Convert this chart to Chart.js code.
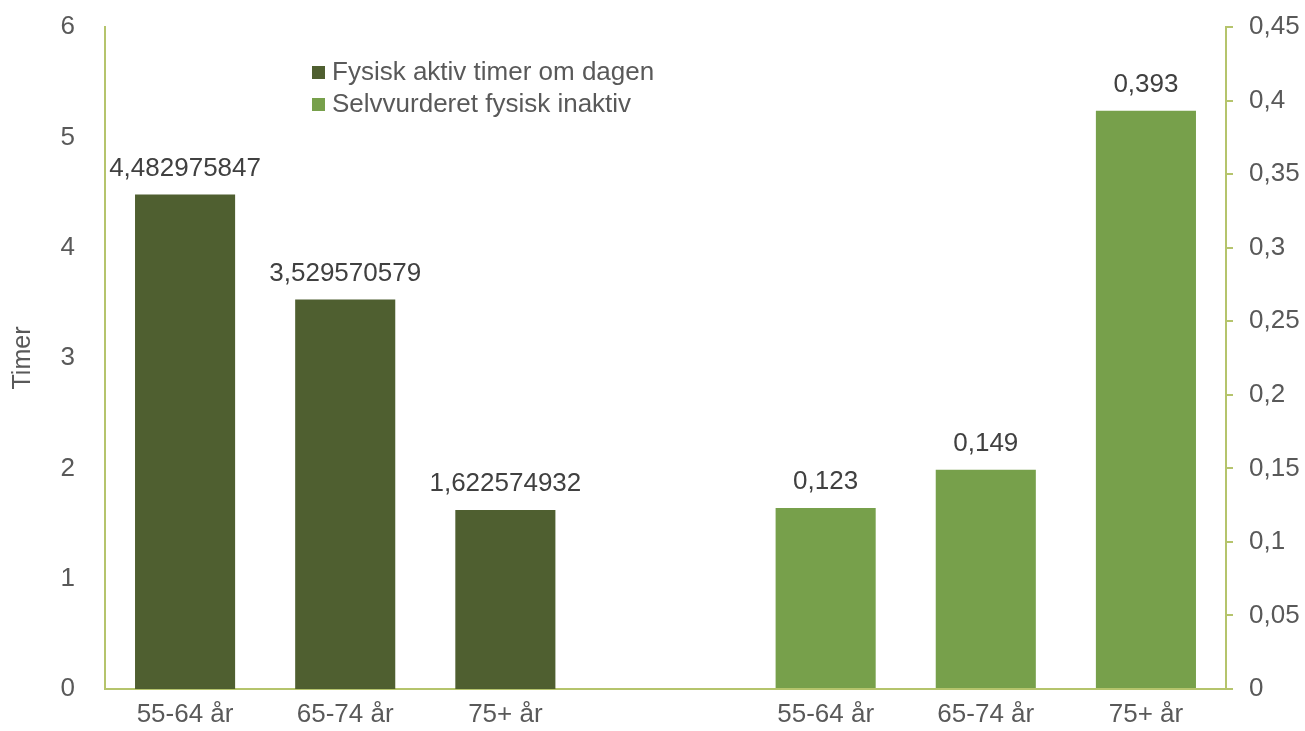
<!DOCTYPE html>
<html>
<head>
<meta charset="utf-8">
<script src="https://cdn.jsdelivr.net/npm/chart.js@4/dist/chart.umd.min.js"></script>
<style>
  html, body { margin: 0; padding: 0; background: #fff; }
  #wrap { width: 1305px; height: 731px; }
</style>
</head>
<body>
<div id="wrap"><canvas id="myChart" width="1305" height="731"></canvas></div>
<script>
// data
var categories = ["55-64 år", "65-74 år", "75+ år", "", "55-64 år", "65-74 år", "75+ år"];
var activeHours = [4.482975847, 3.529570579, 1.622574932, null, null, null, null];
var inactiveShare = [null, null, null, null, 0.123, 0.149, 0.393];
var leftTicks = [0, 1, 2, 3, 4, 5, 6];
var rightTicks = [0, 0.05, 0.1, 0.15, 0.2, 0.25, 0.3, 0.35, 0.4, 0.45];

var darkGreen = "#4F5F30";
var lightGreen = "#77A04B";
var axisColor = "#B5C46C";
var textColor = "#595959";
var fontFamily = "'Liberation Sans', Arial, sans-serif";
var fontSize = 26;

function comma(v) {
  return String(v).replace(".", ",");
}

// value labels above bars
var barLabels = {
  id: "barLabels",
  afterDatasetsDraw: function(chart) {
    var ctx = chart.ctx;
    ctx.save();
    ctx.font = fontSize + "px " + fontFamily;
    ctx.fillStyle = "#404040";
    ctx.textAlign = "center";
    ctx.textBaseline = "middle";
    chart.data.datasets.forEach(function(ds, i) {
      chart.getDatasetMeta(i).data.forEach(function(bar, j) {
        if (ds.data[j] == null) return;
        ctx.fillText(comma(ds.data[j]), bar.x, bar.y - 26);
      });
    });
    ctx.restore();
  }
};

// legend inside the plot
var innerLegend = {
  id: "innerLegend",
  afterDraw: function(chart) {
    var ctx = chart.ctx;
    ctx.save();
    ctx.font = fontSize + "px " + fontFamily;
    ctx.textBaseline = "middle";
    chart.data.datasets.forEach(function(ds, i) {
      var y = 73 + i * 32;
      ctx.fillStyle = ds.backgroundColor;
      ctx.fillRect(312, y - 7, 13, 13);
      ctx.fillStyle = textColor;
      ctx.fillText(ds.label, 332, y);
    });
    ctx.restore();
  }
};

var ctx = document.getElementById("myChart").getContext("2d");
var chart = new Chart(ctx, {
  type: "bar",
  data: {
    labels: categories,
    datasets: [
      { label: "Fysisk aktiv timer om dagen", data: activeHours, backgroundColor: darkGreen, yAxisID: "y" },
      { label: "Selvvurderet fysisk inaktiv", data: inactiveShare, backgroundColor: lightGreen, yAxisID: "y1" }
    ]
  },
  options: {
    responsive: false,
    animation: false,
    layout: { padding: { top: 27, left: 0, right: 0, bottom: 0 } },
    datasets: { bar: { grouped: false, barPercentage: 0.625, categoryPercentage: 1 } },
    plugins: { legend: { display: false }, tooltip: { enabled: false } },
    scales: {
      x: {
        grid: { display: false },
        border: { display: true, color: axisColor, width: 2 },
        ticks: { color: textColor, font: { size: fontSize, family: fontFamily }, padding: 2, maxRotation: 0, autoSkip: false },
        afterFit: function(s) { s.height = 42; }
      },
      y: {
        position: "left",
        min: 0, max: 6,
        afterBuildTicks: function(s) { s.ticks = leftTicks.map(function(v) { return { value: v }; }); },
        grid: { display: false },
        border: { display: true, color: axisColor, width: 2 },
        title: { display: true, text: "Timer", color: textColor, font: { size: fontSize - 1, family: fontFamily }, padding: { top: 8, bottom: 0 } },
        ticks: { color: textColor, font: { size: fontSize, family: fontFamily }, padding: 22 },
        afterFit: function(s) { s.width = 105; s.paddingTop = 0; s.paddingBottom = 0; }
      },
      y1: {
        position: "right",
        min: 0, max: 0.45,
        afterBuildTicks: function(s) { s.ticks = rightTicks.map(function(v) { return { value: v }; }); },
        grid: { display: true, drawOnChartArea: false, drawTicks: true, tickLength: 7, color: axisColor, lineWidth: 2 },
        border: { display: true, color: axisColor, width: 2 },
        ticks: { color: textColor, font: { size: fontSize, family: fontFamily }, padding: 16,
                 callback: function(v) { return comma(Math.round(v * 100) / 100); } },
        afterFit: function(s) { s.width = 79; s.paddingTop = 0; s.paddingBottom = 0; }
      }
    }
  },
  plugins: [barLabels, innerLegend]
});
</script>
</body>
</html>
